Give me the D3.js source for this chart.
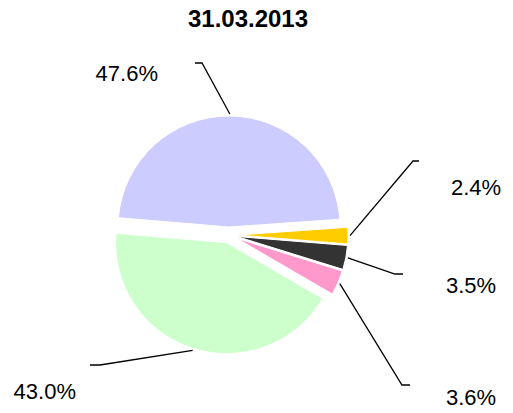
<!DOCTYPE html>
<html>
<head>
<meta charset="utf-8">
<script src="https://cdn.jsdelivr.net/npm/d3@7"></script>
<style>
  body { margin: 0; background: #fff; }
  svg { display: block; font-family: "Liberation Sans", Arial, sans-serif; }
</style>
</head>
<body>
<div id="chart"></div>
<script>
'use strict';

// slice values, in drawing order (clockwise from just above 3 o'clock)
const sliceNames = ['Slice 1', 'Slice 2', 'Slice 3', 'Slice 4', 'Slice 5'];
const sliceValues = [2.4, 3.5, 3.6, 43.0, 47.6];
const sliceLabels = ['2.4%', '3.5%', '3.6%', '43.0%', '47.6%'];
const sliceColors = ['#ffcc00', '#333333', '#ff99cc', '#ccffcc', '#ccccff'];
const title = '31.03.2013';

const width = 513, height = 413;
const cx = 229, cy = 235, radius = 111, explode = 8;
const startDeg = 86;

// label placement (bend of leader line, stub length, text anchor point)
const labelLayout = [
    { bend: [413, 161], stub: 6, text: [451, 195], anchor: 'start' },
    { bend: [395, 274], stub: 8, text: [446, 293], anchor: 'start' },
    { bend: [402, 385], stub: 8, text: [446, 405], anchor: 'start' },
    { bend: [100, 365], stub: -10, text: [76, 399], anchor: 'end' },
    { bend: [202, 63], stub: -7, text: [158, 81], anchor: 'end' }
];

const svg = d3.select('#chart')
    .append('svg')
    .attr('width', width)
    .attr('height', height);

svg.append('text')
    .attr('x', 248)
    .attr('y', 27)
    .attr('text-anchor', 'middle')
    .style('font-size', '24px')
    .style('font-weight', 'bold')
    .text(title);

const start = startDeg * Math.PI / 180;
const pie = d3.pie()
    .sort(null)
    .startAngle(start)
    .endAngle(start + 2 * Math.PI);

const arcs = pie(sliceValues);
const arc = d3.arc().innerRadius(0).outerRadius(radius);

const midAngle = d => (d.startAngle + d.endAngle) / 2;
const offset = d => [Math.sin(midAngle(d)) * explode, -Math.cos(midAngle(d)) * explode];

const pieGroup = svg.append('g')
    .attr('transform', `translate(${cx},${cy})`);

pieGroup.selectAll('path')
    .data(arcs)
    .join('path')
    .attr('transform', d => `translate(${offset(d)})`)
    .attr('d', arc)
    .attr('fill', (d, i) => sliceColors[i])
    .attr('stroke', '#fff')
    .attr('stroke-width', 1);

// leader lines
const edgePoint = d => {
    const [ox, oy] = offset(d);
    const a = midAngle(d);
    return [cx + ox + Math.sin(a) * (radius + 2), cy + oy - Math.cos(a) * (radius + 2)];
};

svg.append('g')
    .selectAll('path')
    .data(arcs)
    .join('path')
    .attr('fill', 'none')
    .attr('stroke', '#000')
    .attr('stroke-width', 1.3)
    .attr('d', (d, i) => {
        const p = edgePoint(d);
        const L = labelLayout[i];
        return d3.line()([p, L.bend, [L.bend[0] + L.stub, L.bend[1]]]);
    });

svg.append('g')
    .selectAll('text')
    .data(arcs)
    .join('text')
    .attr('x', (d, i) => labelLayout[i].text[0])
    .attr('y', (d, i) => labelLayout[i].text[1])
    .attr('text-anchor', (d, i) => labelLayout[i].anchor)
    .style('font-size', '22px')
    .attr('fill', '#000')
    .text((d, i) => sliceLabels[i]);
</script>
</body>
</html>
